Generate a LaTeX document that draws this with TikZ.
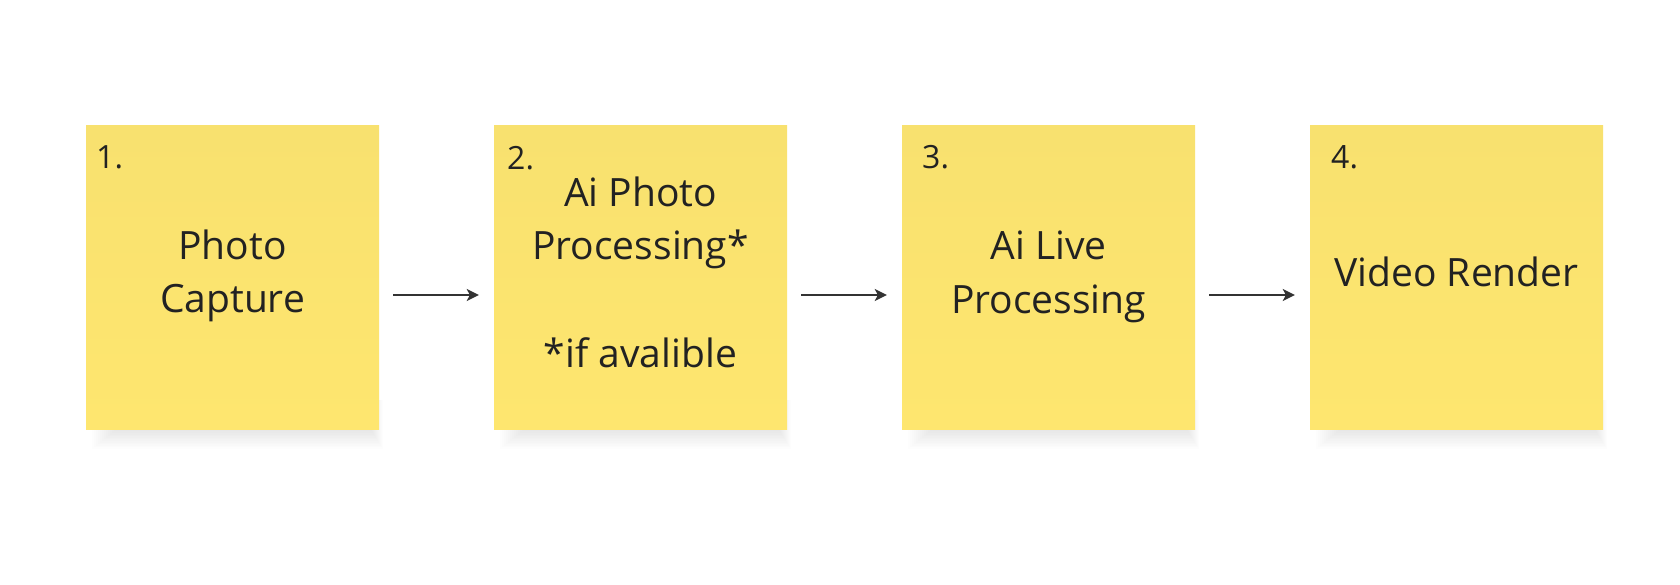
\documentclass[tikz,border=0pt]{standalone}
\usepackage{fontspec}
\setmainfont{Open Sans}
\usetikzlibrary{arrows.meta}
\definecolor{notetop}{HTML}{F8E16F}
\definecolor{notebot}{HTML}{FEE66F}
\definecolor{ink}{HTML}{222222}
\definecolor{arrowc}{HTML}{333333}
\tikzset{
  notebox/.style={rectangle, inner sep=0pt, minimum width=293pt, minimum height=303pt,
    top color=notetop, bottom color=notebot, draw=none},
  maintext/.style={anchor=base, inner sep=0pt, text=ink, font=\fontsize{39}{53}\selectfont},
  numtext/.style={anchor=base west, inner sep=0pt, text=ink, font=\fontsize{32}{40}\selectfont},
  flow/.style={draw=arrowc, line width=2pt, -{Stealth[length=12pt,width=12pt,inset=3pt]},
    shorten <=14pt, shorten >=15pt},
}
\newcommand{\noteshadow}[1]{%
  \foreach \k in {0,...,11} {
    \fill[black, opacity=0.009] (#1+6+\k*2, 400) rectangle (#1+293+4-\k, 429+20-\k*1.6);
  }%
}
\begin{document}
\begin{tikzpicture}[x=1pt, y=-1pt]
  \useasboundingbox[fill=white] (0,0) rectangle (1680,585);
  % shadows
  \noteshadow{86}
  \noteshadow{494}
  \noteshadow{902}
  \noteshadow{1310}
  % boxes
  \node[notebox] (b1) at (232.5,277.5) {};
  \node[notebox] (b2) at (640.5,277.5) {};
  \node[notebox] (b3) at (1048.5,277.5) {};
  \node[notebox] (b4) at (1456.5,277.5) {};
  % numbers
  \node[numtext] (n1) at (96,169) {1.};
  \node[numtext] (n2) at (507,170) {2.};
  \node[numtext] (n3) at (922,169) {3.};
  \node[numtext] (n4) at (1331,169) {4.};
  % main texts
  \node[maintext] (t1a) at (232.5,260) {Photo};
  \node[maintext] (t1b) at (232.5,312) {Capture};
  \node[maintext] (t2a) at (640.5,207) {Ai Photo};
  \node[maintext] (t2b) at (640.5,260) {Processing*};
  \node[maintext] (t2c) at (640.5,367) {*if avalible};
  \node[maintext] (t3a) at (1048.5,260) {Ai Live};
  \node[maintext] (t3b) at (1048.5,313) {Processing};
  \node[maintext] (t4a) at (1456.5,287) {Video Render};
  % connectors
  \draw[flow] ([yshift=-17.5pt]b1.east) -- ([yshift=-17.5pt]b2.west);
  \draw[flow] ([yshift=-17.5pt]b2.east) -- ([yshift=-17.5pt]b3.west);
  \draw[flow] ([yshift=-17.5pt]b3.east) -- ([yshift=-17.5pt]b4.west);
\end{tikzpicture}
\end{document}
